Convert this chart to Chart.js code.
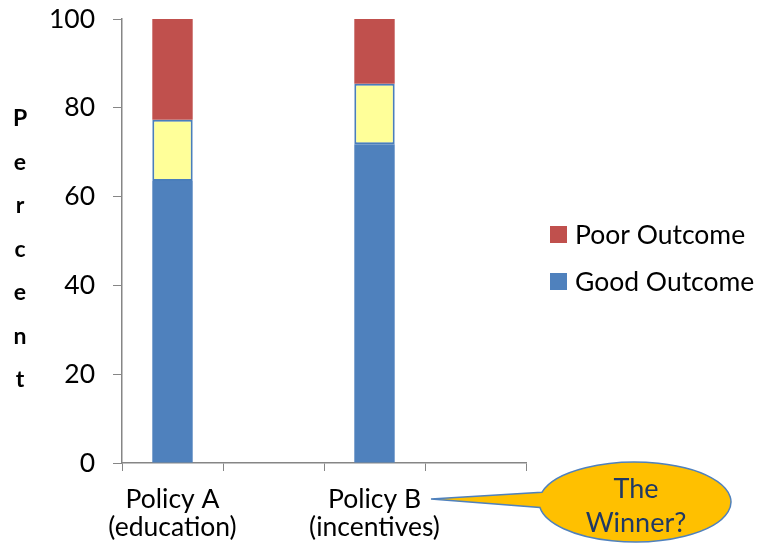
<!DOCTYPE html>
<html>
<head>
<meta charset="utf-8">
<script src="https://cdn.jsdelivr.net/npm/chart.js@4.4.1/dist/chart.umd.min.js"></script>
<style>
  body { margin: 0; background: #fff; }
  #wrap { width: 764px; height: 544px; position: relative; }
</style>
</head>
<body>
<div id="wrap"><canvas id="myChart"></canvas></div>
<script>
// categories (2nd and 4th slots are empty, like the original sheet)
const categorias = [['Policy A', '(education)'], '', ['Policy B', '(incentives)'], ''];
const buenResultado = [63.5, null, 71.8, null];   // Good Outcome (blue)
const rangoIncierto = [13.8, null, 13.6, null];   // yellow box
const malResultado = [22.7, null, 14.6, null];    // Poor Outcome (red)
const ticksY = [0, 20, 40, 60, 80, 100];
const tituloY = 'Percent';
const textoGlobo = ['The', 'Winner?'];

const fuente = 'Lato';
const gris = '#868686';

// vertical "Percent" letters
const tituloVertical = {
    id: 'tituloVertical',
    afterDraw(chart) {
        let ctx = chart.ctx;
        ctx.save();
        ctx.font = 'bold 23px ' + fuente;
        ctx.fillStyle = '#000';
        ctx.textAlign = 'center';
        ctx.textBaseline = 'alphabetic';
        for (let i = 0; i < tituloY.length; i++) {
            ctx.fillText(tituloY[i], 20, 126 + i * 43.5);
        }
        ctx.restore();
    }
};

// legend on the right, only Poor and Good
const leyenda = {
    id: 'leyenda',
    afterDraw(chart) {
        let ctx = chart.ctx;
        let items = [chart.data.datasets[2], chart.data.datasets[0]];
        ctx.save();
        ctx.font = '26.5px ' + fuente;
        ctx.textBaseline = 'alphabetic';
        items.forEach((ds, i) => {
            let y = 226 + i * 47;
            ctx.fillStyle = ds.backgroundColor;
            ctx.fillRect(550, y, 17, 17);
            ctx.fillStyle = '#000';
            ctx.fillText(ds.label, 575, y + 18);
        });
        ctx.restore();
    }
};

// "The Winner?" callout
const globo = {
    id: 'globo',
    afterDraw(chart) {
        let ctx = chart.ctx;
        let cx = 635, cy = 502, rx = 96, ry = 40;
        ctx.save();
        ctx.beginPath();
        ctx.ellipse(cx, cy, rx, ry, 0, -166 * Math.PI / 180, 172 * Math.PI / 180, false);
        ctx.lineTo(431, 499);
        ctx.closePath();
        ctx.fillStyle = '#FFC000';
        ctx.fill();
        ctx.lineWidth = 1.5;
        ctx.strokeStyle = '#4F81BD';
        ctx.stroke();
        ctx.font = '27px ' + fuente;
        ctx.fillStyle = '#1F3864';
        ctx.textAlign = 'center';
        ctx.textBaseline = 'alphabetic';
        ctx.fillText(textoGlobo[0], 636, 498);
        ctx.fillText(textoGlobo[1], 636, 532);
        ctx.restore();
    }
};

function graficar() {
    let ctx = document.getElementById('myChart');
    const data = {
        labels: categorias,
        datasets: [{
            label: 'Good Outcome',
            data: buenResultado,
            backgroundColor: '#4F81BD',
            borderWidth: 0
        }, {
            label: 'range',
            data: rangoIncierto,
            backgroundColor: '#FFFF99',
            borderColor: '#4A7EBB',
            borderWidth: 2,
            borderSkipped: false
        }, {
            label: 'Poor Outcome',
            data: malResultado,
            backgroundColor: '#C0504D',
            borderWidth: 0
        }]
    };
    const config = {
        type: 'bar',
        data: data,
        options: {
            responsive: true,
            maintainAspectRatio: false,
            animation: false,
            categoryPercentage: 1,
            barPercentage: 0.4,
            layout: { padding: { left: 0, right: 238, top: 19, bottom: 0 } },
            plugins: {
                legend: { display: false },
                tooltip: { enabled: false }
            },
            scales: {
                x: {
                    stacked: true,
                    grid: { drawOnChartArea: false, offset: true, tickLength: 8, color: gris },
                    border: { color: gris, width: 1.5 },
                    ticks: {
                        font: { family: fuente, size: 26.5, lineHeight: 1.08 },
                        color: '#000',
                        padding: 14,
                        maxRotation: 0,
                        autoSkip: false
                    },
                    afterFit: (scale) => { scale.height = 81; }
                },
                y: {
                    stacked: true,
                    min: 0,
                    max: 100,
                    afterBuildTicks: (scale) => { scale.ticks = ticksY.map(v => ({ value: v })); },
                    grid: { drawOnChartArea: false, tickLength: 9, color: gris },
                    border: { color: gris, width: 1.5 },
                    ticks: {
                        font: { family: fuente, size: 26.5 },
                        color: '#000',
                        padding: 18
                    },
                    afterFit: (scale) => {
                        scale.width = 122;
                        scale.paddingTop = 0;
                        scale.paddingBottom = 0;
                    }
                }
            }
        },
        plugins: [tituloVertical, leyenda, globo]
    };
    new Chart(ctx, config);
}
graficar();
</script>
</body>
</html>
